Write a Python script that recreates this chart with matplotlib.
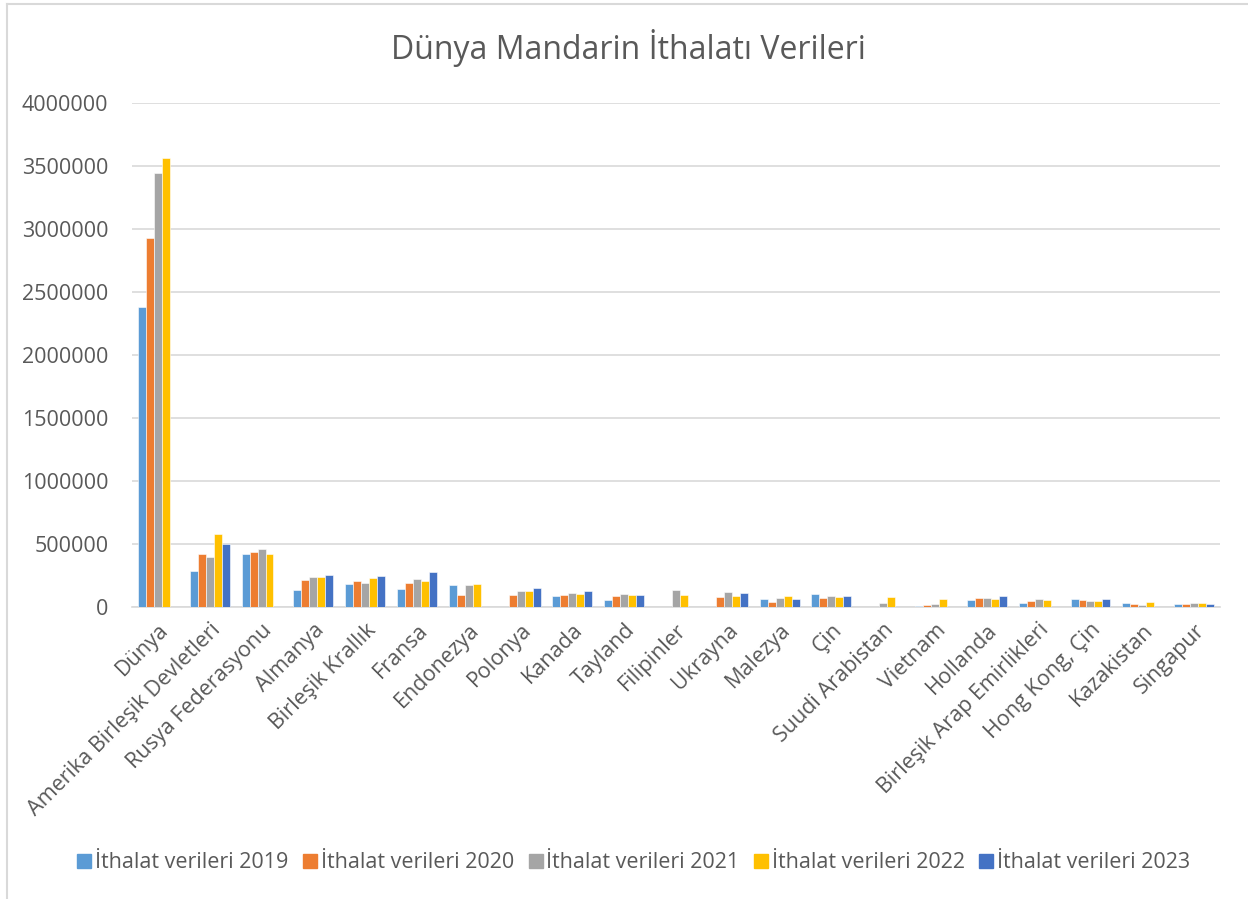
import numpy as np
import matplotlib
matplotlib.use("Agg")
import matplotlib.pyplot as plt
from matplotlib.lines import Line2D

plt.rcParams["font.family"] = ["Open Sans", "DejaVu Sans"]

ulkeler = ["Dünya", "Amerika Birleşik Devletleri", "Rusya Federasyonu", "Almanya", "Birleşik Krallık",
           "Fransa", "Endonezya", "Polonya", "Kanada", "Tayland", "Filipinler", "Ukrayna", "Malezya",
           "Çin", "Suudi Arabistan", "Vietnam", "Hollanda", "Birleşik Arap Emirlikleri", "Hong Kong, Çin",
           "Kazakistan", "Singapur"]
yillar = ["2019", "2020", "2021", "2022", "2023"]
# 0 = veri yok
v2019 = [2381000, 286000, 424000, 132000, 186000, 140000, 172000, 0, 90000, 56000, 0, 0, 61000,
         103000, 0, 5000, 56000, 32000, 61000, 32000, 21000]
v2020 = [2931000, 418000, 434000, 212000, 204000, 194000, 95000, 93000, 95000, 90000, 0, 77000, 42000,
         69000, 0, 13000, 69000, 48000, 53000, 24000, 21000]
v2021 = [3447000, 400000, 463000, 238000, 190000, 220000, 172000, 124000, 111000, 106000, 132000, 116000, 69000,
         85000, 32000, 24000, 69000, 61000, 45000, 16000, 29000]
v2022 = [3566000, 577000, 418000, 241000, 230000, 204000, 180000, 124000, 106000, 98000, 93000, 87000, 85000,
         77000, 77000, 66000, 61000, 56000, 45000, 40000, 34000]
v2023 = [0, 500000, 0, 254000, 244000, 275000, 0, 153000, 124000, 95000, 0, 108000, 61000,
         90000, 0, 0, 85000, 0, 61000, 0, 21000]
seriler = [v2019, v2020, v2021, v2022, v2023]
renkler = ["#5B9BD5", "#ED7D31", "#A5A5A5", "#FFC000", "#4472C4"]

W, H = 1248, 899
fig = plt.figure(figsize=(W / 100, H / 100), dpi=100)
ax = fig.add_axes([132 / W, 1 - 607 / H, (1220 - 132) / W, (607 - 103) / H])

x = np.arange(len(ulkeler))
bw = 0.154
for k, (vals, c) in enumerate(zip(seriler, renkler)):
    ax.bar(x + (k - 2) * bw, vals, width=bw, color=c, edgecolor="white", linewidth=0.4, zorder=3)

ax.set_xlim(-0.5, len(ulkeler) - 0.5)
ax.set_ylim(0, 4000000)
ax.set_yticks(np.arange(0, 4000001, 500000))
ax.set_yticklabels([str(int(t)) for t in np.arange(0, 4000001, 500000)], fontsize=15.5, color="#595959")
ax.yaxis.grid(True, color="#D9D9D9", linewidth=1.2, zorder=0)
ax.set_xticks(x)
ax.set_xticklabels(ulkeler, rotation=45, ha="right", rotation_mode="anchor", fontsize=15.5, color="#595959")
ax.tick_params(axis="both", length=0)
ax.tick_params(axis="y", pad=17)
ax.tick_params(axis="x", pad=9)
for s in ["top", "right", "left"]:
    ax.spines[s].set_visible(False)
ax.spines["bottom"].set_color("#D9D9D9")
ax.spines["bottom"].set_linewidth(1.2)

fig.text(628 / W, 1 - 48 / H, "Dünya Mandarin İthalatı Verileri", ha="center", va="center",
         fontsize=23, color="#595959")

handles = [Line2D([0], [0], marker="s", linestyle="none", markersize=9.5, markerfacecolor=c, markeredgecolor=c)
           for c in renkler]
fig.legend(handles, ["İthalat verileri " + y for y in yillar], loc="center", bbox_to_anchor=(632 / W, 1 - 863 / H),
           ncol=5, frameon=False, fontsize=15.5, labelcolor="#595959", handletextpad=0.0, columnspacing=0.5,
           handlelength=1.0)

# grafik çerçevesi
fig.add_artist(Line2D([7 / W, 7 / W], [0, 1 - 4 / H], color="#D9D9D9", linewidth=1.5))
fig.add_artist(Line2D([7 / W, 1], [1 - 4 / H, 1 - 4 / H], color="#D9D9D9", linewidth=1.5))

fig.savefig("out.png", dpi=100)
